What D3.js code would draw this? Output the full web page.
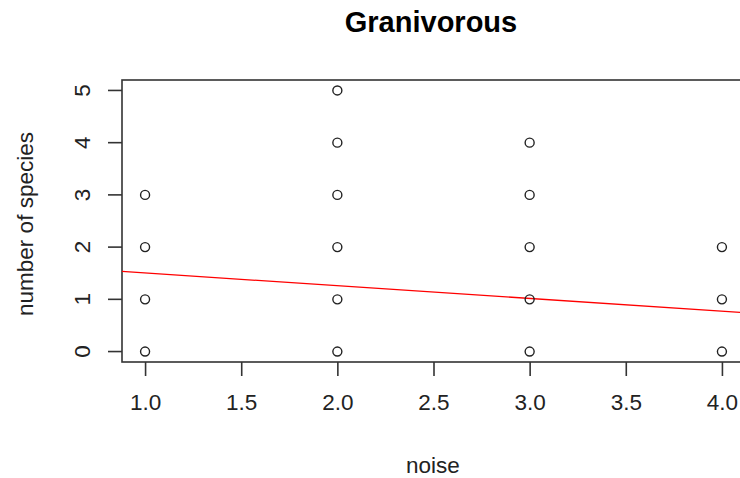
<!DOCTYPE html>
<html>
<head>
<meta charset="utf-8">
<script src="https://cdn.jsdelivr.net/npm/d3@7"></script>
<style>
  html, body { margin: 0; padding: 0; background: #fff; }
  svg { display: block; font-family: "Liberation Sans", Arial, sans-serif; }
</style>
</head>
<body>
<svg id="chart" width="740" height="478"></svg>
<script>
// Observed (noise level, species count) pairs
const noise   = [1, 1, 1, 1, 2, 2, 2, 2, 2, 2, 3, 3, 3, 3, 3, 4, 4, 4];
const species = [0, 1, 2, 3, 0, 1, 2, 3, 4, 5, 0, 1, 2, 3, 4, 0, 1, 2];

// Fitted linear model: species ~ noise  (intercept, slope)
const fitCoef = [1.748, -0.2436];

const xTicks = [1.0, 1.5, 2.0, 2.5, 3.0, 3.5, 4.0];
const yTicks = [0, 1, 2, 3, 4, 5];

const svg = d3.select("#chart");
const plot = { left: 122, right: 745, top: 80, bottom: 362 };

const x = d3.scaleLinear().domain([0.88, 4.12]).range([plot.left, plot.right]);
const y = d3.scaleLinear().domain([-0.2, 5.2]).range([plot.bottom, plot.top]);

const axisColor = "#333";
const labelSize = 22.5;

// Plot frame
svg.append("rect")
  .attr("x", plot.left).attr("y", plot.top)
  .attr("width", plot.right - plot.left).attr("height", plot.bottom - plot.top)
  .attr("fill", "none").attr("stroke", axisColor).attr("stroke-width", 1.6);

// X axis
const xAxis = svg.append("g")
  .attr("transform", `translate(0,${plot.bottom})`)
  .call(d3.axisBottom(x).tickValues(xTicks).tickFormat(d3.format(".1f"))
    .tickSize(14).tickPadding(18));
xAxis.select(".domain").remove();
xAxis.selectAll("line").attr("stroke", axisColor).attr("stroke-width", 1.6);
xAxis.selectAll("text").attr("font-size", labelSize).attr("fill", "#222")
  .attr("font-family", "Liberation Sans, Arial, sans-serif");

// Y axis (labels parallel to the axis)
const yAxis = svg.append("g")
  .attr("transform", `translate(${plot.left},0)`)
  .call(d3.axisLeft(y).tickValues(yTicks).tickFormat(d3.format("d")).tickSize(14));
yAxis.select(".domain").remove();
yAxis.selectAll("line").attr("stroke", axisColor).attr("stroke-width", 1.6);
yAxis.selectAll("text")
  .attr("font-size", labelSize).attr("fill", "#222")
  .attr("font-family", "Liberation Sans, Arial, sans-serif")
  .attr("x", 0).attr("dy", null)
  .attr("text-anchor", "middle").attr("dominant-baseline", "central")
  .attr("transform", d => `translate(-40,${y(d)}) rotate(-90)`)
  .attr("y", 0);
yAxis.selectAll(".tick").attr("transform", null);
yAxis.selectAll(".tick line")
  .attr("y1", d => y(d)).attr("y2", d => y(d))
  .attr("x1", -14).attr("x2", 0);

// Clip for the fitted line
svg.append("clipPath").attr("id", "plotClip")
  .append("rect")
  .attr("x", plot.left).attr("y", plot.top)
  .attr("width", plot.right - plot.left).attr("height", plot.bottom - plot.top);

// Regression line
const [b0, b1] = fitCoef;
const xd = x.domain();
svg.append("line")
  .attr("clip-path", "url(#plotClip)")
  .attr("x1", x(xd[0])).attr("y1", y(b0 + b1 * xd[0]))
  .attr("x2", x(xd[1])).attr("y2", y(b0 + b1 * xd[1]))
  .attr("stroke", "#ff0000").attr("stroke-width", 1.3);

// Points
svg.append("g").selectAll("circle")
  .data(noise.map((n, i) => [n, species[i]]))
  .join("circle")
  .attr("cx", d => x(d[0])).attr("cy", d => y(d[1]))
  .attr("r", 4.5)
  .attr("fill", "none").attr("stroke", "#222").attr("stroke-width", 1.4);

// Titles
svg.append("text")
  .attr("x", 431).attr("y", 22)
  .attr("text-anchor", "middle").attr("dominant-baseline", "central")
  .attr("font-size", 29).attr("font-weight", "bold").attr("fill", "#000")
  .text("Granivorous");

svg.append("text")
  .attr("x", 433).attr("y", 465)
  .attr("text-anchor", "middle").attr("dominant-baseline", "central")
  .attr("font-size", labelSize).attr("fill", "#222")
  .text("noise");

svg.append("text")
  .attr("transform", `translate(25,${(130 + 318) / 2}) rotate(-90)`)
  .attr("text-anchor", "middle").attr("dominant-baseline", "central")
  .attr("font-size", labelSize).attr("fill", "#222")
  .text("number of species");
</script>
</body>
</html>
